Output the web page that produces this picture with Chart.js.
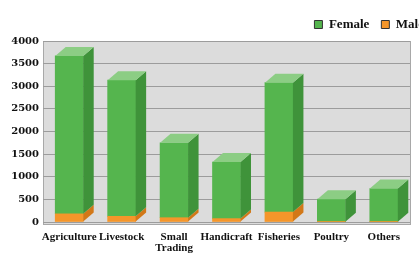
<!DOCTYPE html>
<html>
<head>
<meta charset="utf-8">
<script src="https://cdn.jsdelivr.net/npm/chart.js@4"></script>
<style>
  html, body { margin: 0; padding: 0; background: #fff; overflow: hidden; }
  #wrap { position: relative; width: 436px; height: 253px; }
</style>
</head>
<body>
<div id="wrap"><canvas id="chart"></canvas></div>
<script>
// categories and series
const categories = ['Agriculture', 'Livestock', ['Small', 'Trading'], 'Handicraft', 'Fisheries', 'Poultry', 'Others'];
const femaleValues = [3490, 3010, 1655, 1250, 2860, 500, 735];
const maleValues = [180, 125, 95, 75, 220, 5, 5];
const yMin = 0, yMax = 4000, yStep = 500;

const GREEN = { front: '#55b54e', side: '#3f933a', top: '#8ccd84' };
const ORANGE = { front: '#f5962a', side: '#d27818', top: '#f8bc6a' };
const DX = 10.5, DY = 9;

// grey wall behind the plot
const wallPlugin = {
    id: 'wall',
    beforeDraw(chart) {
        const { ctx, chartArea: a } = chart;
        ctx.save();
        ctx.fillStyle = '#dcdcdc';
        ctx.fillRect(a.left, a.top, a.right - a.left, a.bottom - a.top + 2);
        ctx.strokeStyle = '#a8a8a8';
        ctx.lineWidth = 1;
        ctx.strokeRect(a.left + 0.5, a.top + 0.5, a.right - a.left, a.bottom - a.top + 2);
        ctx.restore();
    }
};

// side and top faces so the bars look like 3D columns
const depthPlugin = {
    id: 'depth',
    afterDatasetsDraw(chart) {
        const ctx = chart.ctx;
        const last = chart.data.datasets.length - 1;
        chart.data.datasets.forEach((ds, di) => {
            const meta = chart.getDatasetMeta(di);
            const pal = ds.faces;
            meta.data.forEach(bar => {
                const { x, y, base, width } = bar.getProps(['x', 'y', 'base', 'width'], true);
                const l = x - width / 2, r = x + width / 2;
                const t = Math.min(y, base), b = Math.max(y, base);
                if (b - t < 0.5) return;
                ctx.save();
                ctx.fillStyle = pal.side;
                ctx.beginPath();
                ctx.moveTo(r, b); ctx.lineTo(r, t);
                ctx.lineTo(r + DX, t - DY); ctx.lineTo(r + DX, b - DY);
                ctx.closePath(); ctx.fill();
                if (di === last) {
                    ctx.fillStyle = pal.top;
                    ctx.beginPath();
                    ctx.moveTo(l, t); ctx.lineTo(l + DX, t - DY);
                    ctx.lineTo(r + DX, t - DY); ctx.lineTo(r, t);
                    ctx.closePath(); ctx.fill();
                }
                ctx.restore();
            });
        });
    }
};

new Chart(document.getElementById('chart'), {
    type: 'bar',
    data: {
        labels: categories,
        datasets: [
            { label: 'Male', data: maleValues, backgroundColor: ORANGE.front, faces: ORANGE },
            { label: 'Female', data: femaleValues, backgroundColor: GREEN.front, faces: GREEN },
        ]
    },
    options: {
        responsive: true,
        maintainAspectRatio: false,
        animation: false,
        layout: { padding: { top: 6, left: 0, right: 0, bottom: 0 } },
        datasets: { bar: { barThickness: 28, borderWidth: 0 } },
        plugins: {
            tooltip: { enabled: false },
            legend: {
                position: 'top',
                align: 'end',
                reverse: true,
                labels: {
                    boxWidth: 8, boxHeight: 8, padding: 12,
                    color: '#111',
                    font: { family: 'Liberation Serif', weight: 'bold', size: 13 },
                    generateLabels(chart) {
                        const items = Chart.defaults.plugins.legend.labels.generateLabels(chart);
                        items.forEach(it => { it.strokeStyle = '#333'; it.lineWidth = 1; });
                        return items;
                    }
                }
            }
        },
        scales: {
            x: {
                stacked: true,
                grid: { display: false, drawTicks: false },
                border: { display: false },
                ticks: {
                    color: '#111', padding: 10, maxRotation: 0, autoSkip: false,
                    font: { family: 'Liberation Serif', weight: 'bold', size: 11, lineHeight: 0.95 }
                },
                afterFit: s => { s.height = 31; }
            },
            y: {
                stacked: true,
                min: yMin, max: yMax,
                ticks: {
                    stepSize: yStep, color: '#111', padding: 4,
                    font: { family: 'DejaVu Serif', weight: 'bold', size: 10 },
                    callback: v => String(v)
                },
                grid: { color: '#9c9c9c', drawTicks: false },
                border: { display: false },
                afterFit: s => { s.width = 43; }
            },
            y2: {
                position: 'right',
                display: true,
                grid: { display: false, drawTicks: false },
                border: { display: false },
                ticks: { display: false },
                afterFit: s => { s.width = 26; }
            }
        }
    },
    plugins: [wallPlugin, depthPlugin]
});
</script>
</body>
</html>
